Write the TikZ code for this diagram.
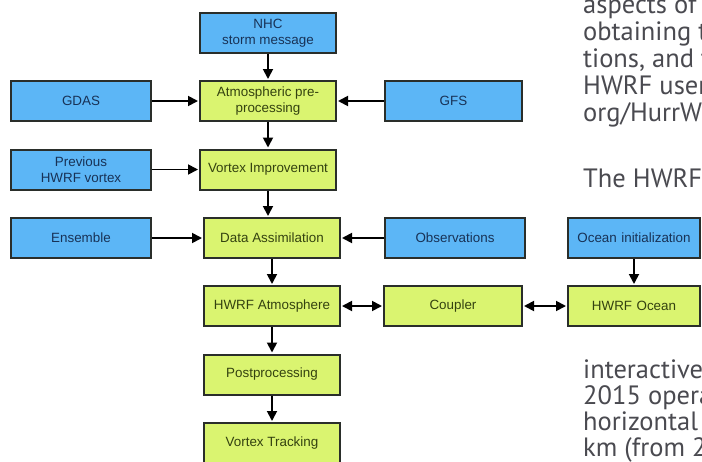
\documentclass[tikz,border=0pt]{standalone}
\usepackage{fontspec}
\setmainfont{Liberation Sans}
\newfontfamily\bodyfont{PT Sans}
\usetikzlibrary{arrows.meta}
\definecolor{boxblue}{RGB}{92,182,246}
\definecolor{boxgreen}{RGB}{218,244,112}
\definecolor{txtblue}{RGB}{24,50,86}
\definecolor{txtgreen}{RGB}{52,66,16}
\definecolor{bordercol}{RGB}{42,46,42}
\definecolor{bodygray}{RGB}{74,74,80}
\tikzset{
  base box/.style={draw=bordercol, line width=2pt, minimum height=40pt, inner sep=1pt,
    align=center, font=\fontsize{13.4}{16}\selectfont},
  bluebox/.style={base box, fill=boxblue, text=txtblue},
  greenbox/.style={base box, fill=boxgreen, text=txtgreen},
  tip/.tip={Triangle[length=10pt,width=10pt]},
  flow/.style={draw=black, line width=1.8pt, -tip, shorten >=1pt},
  flow2/.style={draw=black, line width=1.8pt, tip-tip, shorten >=1pt, shorten <=1pt},
  bodytext/.style={anchor=base west, inner sep=0pt, text=bodygray, font=\bodyfont\fontsize{26.5}{26.5}\selectfont}
}
\begin{document}
\begin{tikzpicture}[x=1pt,y=-1pt]
\useasboundingbox (0,0) rectangle (702,461);
\clip (0,0) rectangle (702,461);
\fill[white] (0,0) rectangle (702,461);
% boxes
\node[bluebox, minimum width=136pt] (nhc) at (268,33) {NHC\\storm message};
\node[greenbox, minimum width=136pt] (atm) at (268,101) {Atmospheric pre-\\processing};
\node[bluebox, minimum width=140pt] (gdas) at (81,101) {GDAS};
\node[bluebox, minimum width=137pt] (gfs) at (453.5,101) {GFS};
\node[bluebox, minimum width=140pt] (prev) at (81,169.5) {Previous\\HWRF vortex};
\node[greenbox, minimum width=136pt] (vi) at (268,169.5) {Vortex Improvement};
\node[greenbox, minimum width=136pt] (da) at (272,238) {Data Assimilation};
\node[bluebox, minimum width=140pt] (ens) at (81,238) {Ensemble};
\node[bluebox, minimum width=140pt] (obs) at (455,238) {Observations};
\node[bluebox, minimum width=132pt, text width=128pt] (oi) at (634,238) {Ocean initialization};
\node[greenbox, minimum width=136pt] (hatm) at (272,306) {HWRF Atmosphere};
\node[greenbox, minimum width=138pt] (coup) at (453,306) {Coupler};
\node[greenbox, minimum width=132pt, text width=128pt] (hoc) at (634,306) {HWRF Ocean};
\node[greenbox, minimum width=136pt] (post) at (272,374.5) {Postprocessing};
\node[greenbox, minimum width=136pt] (vt) at (272,443) {Vortex Tracking};
% connectors
\draw[flow] (nhc) -- (atm);
\draw[flow] (gdas) -- (atm);
\draw[flow] (gfs) -- (atm);
\draw[flow] (atm) -- (vi);
\draw[flow] (prev) -- (vi);
\draw[flow] (vi.south) -- (vi.south |- da.north);
\draw[flow] (ens) -- (da);
\draw[flow] (obs) -- (da);
\draw[flow] (da) -- (hatm);
\draw[flow2] (hatm) -- (coup);
\draw[flow2] (coup) -- (hoc);
\draw[flow] (oi) -- (hoc);
\draw[flow] (hatm) -- (post);
\draw[flow] (post) -- (vt);
% body text fragments (clipped at the right edge, as in the reference)
\node[bodytext] (t1) at (583,13) {aspects of};
\node[bodytext] (t2) at (583,40) {obtaining t};
\node[bodytext] (t3) at (583,67) {tions, and t};
\node[bodytext] (t4) at (583,94) {HWRF user};
\node[bodytext] (t5) at (583,121) {org/HurrW};
\node[bodytext] (t6) at (583,187) {The HWRF};
\node[bodytext] (t7) at (583,378) {interactive};
\node[bodytext] (t8) at (583,404) {2015 opera};
\node[bodytext] (t9) at (583,430) {horizontal};
\node[bodytext] (t10) at (583,456) {km (from 2};
\end{tikzpicture}
\end{document}
